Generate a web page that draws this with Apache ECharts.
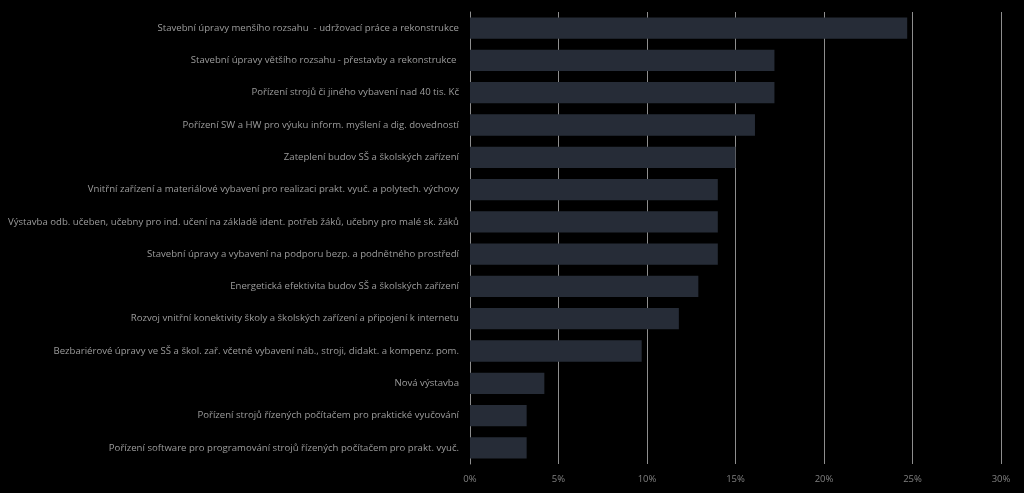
<!DOCTYPE html>
<html><head><meta charset="utf-8">
<script src="https://cdn.jsdelivr.net/npm/echarts@6/dist/echarts.min.js"></script>
<style>html,body{margin:0;padding:0;background:#000;}#c{width:1024px;height:493px;}</style>
</head><body><div id="c"></div>
<script>
const categories = [
  "Stavební úpravy menšího rozsahu  - udržovací práce a rekonstrukce",
  "Stavební úpravy většího rozsahu - přestavby a rekonstrukce ",
  "Pořízení strojů či jiného vybavení nad 40 tis. Kč",
  "Pořízení SW a HW pro výuku inform. myšlení a dig. dovedností",
  "Zateplení budov SŠ a školských zařízení",
  "Vnitřní zařízení a materiálové vybavení pro realizaci prakt. vyuč. a polytech. výchovy",
  "Výstavba odb. učeben, učebny pro ind. učení na základě ident. potřeb žáků, učebny pro malé sk. žáků",
  "Stavební úpravy a vybavení na podporu bezp. a podnětného prostředí",
  "Energetická efektivita budov SŠ a školských zařízení",
  "Rozvoj vnitřní konektivity školy a školských zařízení a připojení k internetu",
  "Bezbariérové úpravy ve SŠ a škol. zař. včetně vybavení náb., stroji, didakt. a kompenz. pom.",
  "Nová výstavba",
  "Pořízení strojů řízených počítačem pro praktické vyučování",
  "Pořízení software pro programování strojů řízených počítačem pro prakt. vyuč."
];
const values = [24.7, 17.2, 17.2, 16.1, 15.0, 14.0, 14.0, 14.0, 12.9, 11.8, 9.7, 4.2, 3.2, 3.2];
const xTicks = [0, 5, 10, 15, 20, 25, 30];

const chart = echarts.init(document.getElementById('c'));
chart.setOption({
  backgroundColor: '#000000',
  animation: false,
  grid: { left: 470, right: 23, top: 12, bottom: 29, containLabel: false },
  xAxis: {
    type: 'value', min: xTicks[0], max: xTicks[xTicks.length - 1], interval: 5,
    axisLine: { show: false },
    axisTick: { show: false },
    splitLine: { show: true, lineStyle: { color: '#8e8e8e', width: 1 } },
    axisLabel: { color: '#808080', fontFamily: 'Open Sans', fontSize: 9.5, margin: 10,
      formatter: v => v + '%' }
  },
  yAxis: {
    type: 'category', inverse: true, data: categories,
    axisLine: { show: true, lineStyle: { color: '#8e8e8e', width: 1 } },
    axisTick: { show: false },
    axisLabel: { color: '#9c9c9c', fontFamily: 'Open Sans', fontSize: 9.6, margin: 11 }
  },
  series: [{
    type: 'bar', data: values, barCategoryGap: '34%',
    itemStyle: { color: '#262c37' }
  }]
});
</script>
</body></html>
